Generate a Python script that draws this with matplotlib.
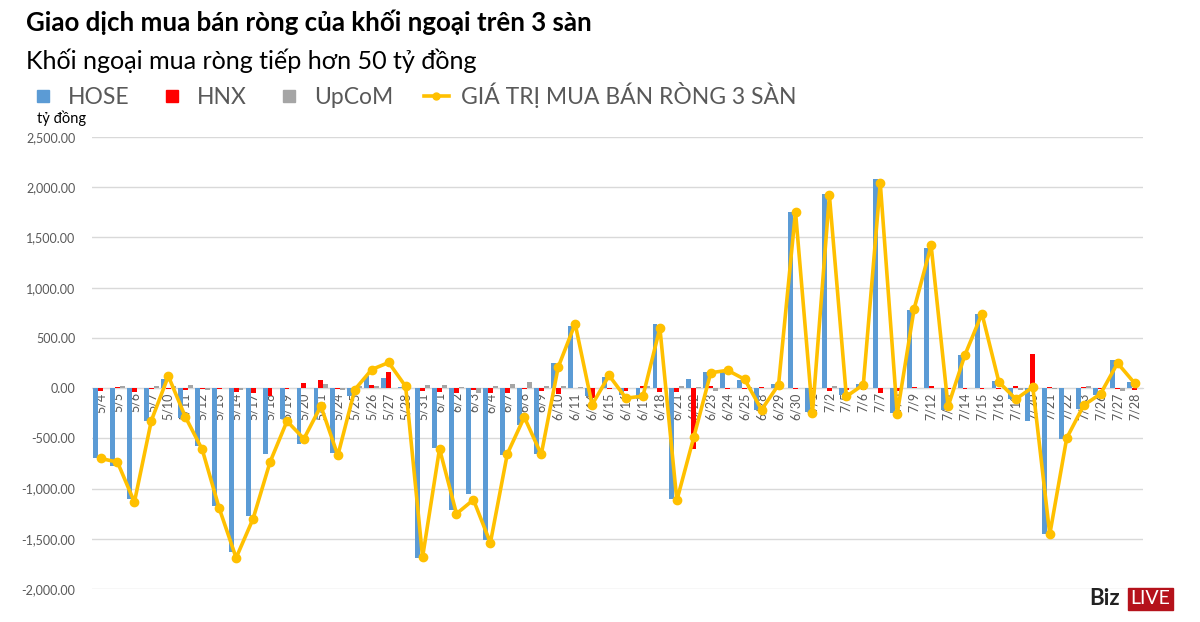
import numpy as np
import matplotlib.pyplot as plt
from matplotlib.lines import Line2D
from matplotlib.ticker import MultipleLocator, FuncFormatter

# =========================
# Dữ liệu (tỷ đồng)
# =========================
ngay = ['5/4', '5/5', '5/6', '5/7', '5/10', '5/11', '5/12', '5/13', '5/14', '5/17',
        '5/18', '5/19', '5/20', '5/21', '5/24', '5/25', '5/26', '5/27', '5/28', '5/31',
        '6/1', '6/2', '6/3', '6/4', '6/7', '6/8', '6/9', '6/10', '6/11', '6/14',
        '6/15', '6/16', '6/17', '6/18', '6/21', '6/22', '6/23', '6/24', '6/25', '6/28',
        '6/29', '6/30', '7/1', '7/2', '7/5', '7/6', '7/7', '7/8', '7/9', '7/12',
        '7/13', '7/14', '7/15', '7/16', '7/19', '7/20', '7/21', '7/22', '7/23', '7/26',
        '7/27', '7/28']

hose = [-693, -777, -1105, -329, 87, -295, -581, -1178, -1633, -1271,
        -660, -312, -561, -305, -647, -83, 117, 103, 13, -1693,
        -594, -1218, -1052, -1517, -664, -365, -654, 249, 615, -80,
        110, -67, -110, 641, -1102, 93, 165, 165, 80, -217,
        40, 1753, -235, 1929, -73, 43, 2079, -243, 781, 1398,
        -220, 332, 734, 68, -106, -329, -1450, -504, -206, -73,
        283, 60]

hnx = [-25, 15, -40, -10, -5, -23, -10, -5, -43, -47,
       -83, -10, 47, 77, -5, -25, 33, 157, -3, -33,
       -40, -50, -23, -50, -47, -5, -30, -63, 3, -97,
       -5, -30, 20, -40, -40, -604, 20, -5, -5, 10,
       -13, -5, -10, -30, -23, -17, -47, -30, 8, 20,
       -10, -5, -5, -5, 20, 339, 10, 5, 10, -5,
       -13, -23]

upcom = [3, 20, 3, 20, 20, 27, -23, 0, -15, 2,
         5, 2, 3, 37, -15, 23, 23, 3, 3, 30,
         30, 13, -50, 20, 43, 60, 20, 20, 10, 3,
         2, 2, 20, 2, 20, 10, -30, 2, 10, 2,
         3, 2, 3, 17, 3, 3, 3, 3, 3, 3,
         3, 3, 5, 3, -23, 3, -5, 3, 17, 3,
         -30, 3]

tong = [-700, -737, -1135, -323, 120, -285, -611, -1195, -1690, -1301,
        -737, -329, -504, -179, -670, -15, 185, 255, 17, -1683,
        -604, -1251, -1112, -1540, -654, -289, -660, 209, 641, -166,
        126, -100, -80, 598, -1118, -488, 153, 177, 87, -215,
        34, 1757, -249, 1919, -83, 34, 2042, -255, 791, 1421,
        -182, 332, 741, 60, -110, 10, -1457, -498, -172, -56,
        249, 50]

# =========================
# Estilo
# =========================
plt.rcParams['font.family'] = ['Lato', 'Noto Sans', 'DejaVu Sans']
azul = '#5B9BD5'
vermelho = '#FF0000'
cinza = '#A5A5A5'
amarelo = '#FFC000'
texto = '#595959'

fig = plt.figure(figsize=(12, 6.22), dpi=100)
ax = fig.add_axes([0.0767, 0.0531, 0.8758, 0.7266])

x = np.arange(len(ngay))
w = 0.29
ax.bar(x - w, hose, w, color=azul, zorder=2)
ax.bar(x, hnx, w, color=vermelho, zorder=2)
ax.bar(x + w, upcom, w, color=cinza, zorder=2)
ax.plot(x, tong, color=amarelo, lw=2.6, marker='o', ms=6, zorder=3)

ax.set_xlim(-0.5, len(ngay) - 0.5)
ax.set_ylim(-2000, 2500)
ax.yaxis.set_major_locator(MultipleLocator(500))
ax.yaxis.set_major_formatter(FuncFormatter(lambda v, p: f'{v:,.2f}'))
ax.grid(axis='y', color='#D9D9D9', lw=1, zorder=0)
ax.set_axisbelow(True)

for s in ['top', 'right', 'left']:
    ax.spines[s].set_visible(False)
ax.spines['bottom'].set_position(('data', 0))
ax.spines['bottom'].set_color('#D9D9D9')
ax.spines['bottom'].set_zorder(1)

ax.set_xticks(x)
ax.set_xticklabels(ngay, rotation=90, fontsize=9, color=texto)
ax.tick_params(axis='x', length=0, pad=3)
ax.tick_params(axis='y', length=0, labelsize=9, labelcolor=texto, pad=12)

# =========================
# Textos
# =========================
fig.text(0.0215, 0.964, 'Giao dịch mua bán ròng của khối ngoại trên 3 sàn',
         fontsize=18.6, fontweight='bold', color='black', va='center')
fig.text(0.0215, 0.903, 'Khối ngoại mua ròng tiếp hơn 50 tỷ đồng',
         fontsize=18.1, color='black', va='center')
fig.text(0.031, 0.81, 'tỷ đồng', fontsize=10.5, color='black', va='center')

handles = [Line2D([0], [0], lw=0, marker='s', ms=9, color=azul),
           Line2D([0], [0], lw=0, marker='s', ms=9, color=vermelho),
           Line2D([0], [0], lw=0, marker='s', ms=9, color=cinza),
           Line2D([0], [0], color=amarelo, lw=2.6, marker='o', ms=5)]
labels = ['HOSE', 'HNX', 'UpCoM', 'GIÁ TRỊ MUA BÁN RÒNG 3 SÀN']
leg = fig.legend(handles, labels, loc='center left', bbox_to_anchor=(0.025, 0.847),
                 ncol=4, frameon=False, fontsize=16.5, handlelength=1.1,
                 handletextpad=0.55, columnspacing=1.3, borderaxespad=0,
                 borderpad=0)
for t in leg.get_texts():
    t.set_color(texto)

# logo BizLIVE
fig.text(0.908, 0.037, 'Biz', fontsize=16, fontweight='bold', color='#222222', va='center')
fig.text(0.942, 0.037, 'LIVE', fontsize=14, color='white', va='center',
         bbox=dict(boxstyle='square,pad=0.12', facecolor='#B5121B', edgecolor='#B5121B'))

plt.savefig('out.png', dpi=100)
